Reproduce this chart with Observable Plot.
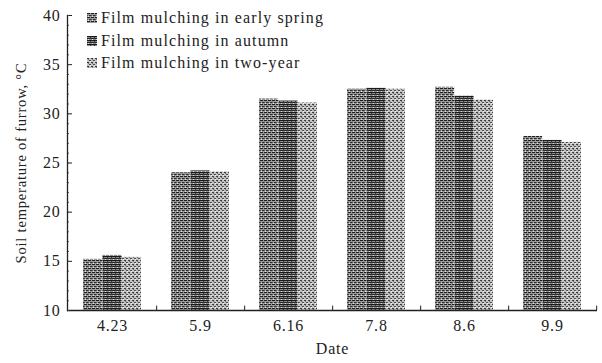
<!DOCTYPE html>
<html><head><meta charset="utf-8">
<script src="https://cdn.jsdelivr.net/npm/d3@7"></script>
<script src="https://cdn.jsdelivr.net/npm/@observablehq/plot@0.6"></script>
<style>
body{margin:0;background:#fff;font-family:"Liberation Serif",serif;}
#wrap{position:relative;width:602px;height:363px;}
#legend{position:absolute;left:87px;top:7px;font:16px "Liberation Serif",serif;letter-spacing:1.1px;color:#222;}
#legend .row{height:22.5px;display:flex;align-items:center;}
#legend svg{margin-right:4px;}
</style></head>
<body><div id="wrap"><div id="legend"></div></div>
<script>
const dates = ["4.23","5.9","6.16","7.8","8.6","9.9"];
const series = ["Film mulching in early spring","Film mulching in autumn","Film mulching in two-year"];
const earlySpring = [15.2, 24.0, 31.5, 32.5, 32.7, 27.7];
const autumn      = [15.6, 24.2, 31.3, 32.6, 31.8, 27.3];
const twoYear     = [15.4, 24.1, 31.1, 32.5, 31.4, 27.1];
const yTicks = [10,15,20,25,30,35,40];
const yMinor = d3.range(10, 40.01, 1);

const values = [earlySpring, autumn, twoYear];
const data = [];
series.forEach((s, i) => dates.forEach((d, j) => data.push({date: d, series: s, i, value: values[i][j]})));

const patternIds = ["p0","p1","p2"];
const paddingInner = 0.34, paddingOuter = 0.17;
const W = 602, ML = 67, MR = 5;
const step = (W - ML - MR) / (dates.length - paddingInner + 2 * paddingOuter);
const bw = step * (1 - paddingInner);
const third = bw / 3;

const barMarks = series.map((s, i) => Plot.barY(data.filter(d => d.i === i), {
  x: "date", y1: 10, y2: "value",
  fill: `url(#${patternIds[i]})`,
  insetLeft: i * third, insetRight: (2 - i) * third
}));

const chart = Plot.plot({
  width: W, height: 363,
  marginLeft: ML, marginRight: MR, marginTop: 15, marginBottom: 53,
  style: {fontFamily: "Liberation Serif, serif", fontSize: "16px", color: "#222", background: "#fff", letterSpacing: "0.8px"},
  x: {domain: dates, paddingInner, paddingOuter, label: null},
  y: {domain: [10, 40], label: null},
  marks: [
    ...barMarks,
    Plot.ruleY([10], {stroke: "#222", strokeWidth: 1.3}),
    Plot.frame({anchor: "left", stroke: "#222", strokeWidth: 1.3}),
    Plot.axisY({ticks: yTicks, tickSize: 0, tickPadding: 7, fontSize: 16, label: null}),
    Plot.axisY({ticks: yTicks, tickSize: 5, dx: 5, text: null, label: null, stroke: "#222"}),
    Plot.axisY({ticks: yMinor, tickSize: 2, dx: 2, text: null, label: null, stroke: "#555", strokeDasharray: "1,1"}),
    Plot.axisX({tickSize: 0, tickPadding: 9, fontSize: 16, label: null}),
    Plot.ruleX(dates, {x: d => d, y1: 10, y2: 10.45, dx: step / 2, stroke: "#222"}),
    Plot.text(["Soil temperature of furrow, °C"], {frameAnchor: "left", textAnchor: "middle", rotate: -90, dx: -46, fontSize: 14.5, fill: "#222", letterSpacing: "0.3px"}),
    Plot.text(["Date"], {frameAnchor: "bottom", dy: 43, fontSize: 16, fill: "#222"})
  ]
});

// dither-like patterns
const defsMarkup = `
<defs>
 <pattern id="p0" patternUnits="userSpaceOnUse" width="4" height="4">
  <rect width="4" height="4" fill="#9a9a9a"/>
  <rect x="0" y="0" width="3" height="1" fill="#1e1e1e"/>
  <rect x="2" y="2" width="2" height="1" fill="#2e2e2e"/>
  <rect x="0" y="2" width="1" height="1" fill="#555"/>
  <rect x="1" y="3" width="1" height="1" fill="#e8e8e8"/>
 </pattern>
 <pattern id="p1" patternUnits="userSpaceOnUse" width="4" height="4">
  <rect width="4" height="4" fill="#8c8c8c"/>
  <rect x="0" y="0" width="4" height="1" fill="#1a1a1a"/>
  <rect x="0" y="2" width="3" height="1" fill="#262626"/>
  <rect x="3" y="1" width="1" height="2" fill="#3a3a3a"/>
  <rect x="1" y="3" width="1" height="1" fill="#ddd"/>
 </pattern>
 <pattern id="p2" patternUnits="userSpaceOnUse" width="4" height="4">
  <rect width="4" height="4" fill="#c4c4c4"/>
  <rect x="0" y="0" width="2" height="1" fill="#3a3a3a"/>
  <rect x="2" y="2" width="2" height="1" fill="#4a4a4a"/>
  <rect x="1" y="1" width="1" height="1" fill="#777"/>
  <rect x="3" y="3" width="1" height="1" fill="#f4f4f4"/>
 </pattern>
</defs>`;
chart.insertAdjacentHTML("afterbegin", defsMarkup);
document.getElementById("wrap").prepend(chart);

const legend = d3.select("#legend");
series.forEach((s, i) => {
  const row = legend.append("div").attr("class", "row");
  row.append("svg").attr("width", 10).attr("height", 10)
    .append("rect").attr("width", 10).attr("height", 10).attr("fill", `url(#${patternIds[i]})`);
  row.append("span").text(s);
});
</script></body></html>
